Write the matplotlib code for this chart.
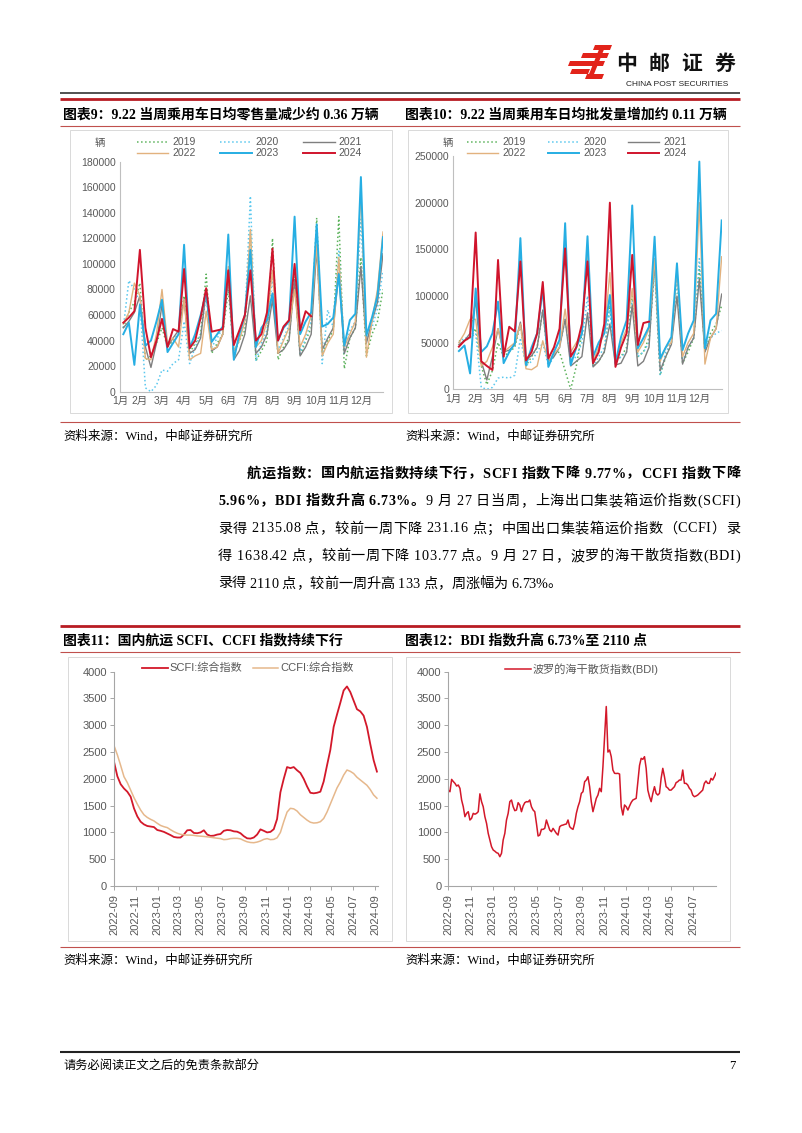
import matplotlib
matplotlib.use('Agg')
import matplotlib.pyplot as plt
import numpy as np
import pandas as pd
from matplotlib.patches import Polygon, Rectangle
from matplotlib.lines import Line2D
import matplotlib.dates as mdates

# ---------------- data ----------------
months = ['1月', '2月', '3月', '4月', '5月', '6月', '7月', '8月', '9月', '10月', '11月', '12月']
years = ['2019', '2020', '2021', '2022', '2023', '2024']

# chart 9: weekly retail daily average (4 points per month)
retail_2019 = [50000,62000,70000,85000, 25000,28000,38000,50000, 35000,40000,45000,75000, 30000,38000,45000,92000,
               30000,38000,45000,80000, 30000,40000,48000,125000, 24000,32000,40000,120000, 25000,35000,42000,90000,
               28000,40000,50000,136000, 30000,40000,48000,137000, 18000,42000,50000,105000, 28000,45000,55000,80000]
retail_2020 = [50000,87000,80000,70000, 3000,0,5000,17000, 16000,22000,25000,55000, 22000,35000,45000,75000,
               35000,42000,50000,90000, 30000,42000,55000,153000, 24000,38000,48000,90000, 32000,42000,52000,95000,
               30000,42000,55000,120000, 22000,64000,50000,110000, 30000,48000,55000,135000, 40000,50000,65000,95000]
retail_2021 = [50000,55000,62000,75000, 35000,19000,38000,68000, 35000,42000,48000,72000, 30000,33000,42000,80000,
               32000,35000,45000,90000, 25000,32000,45000,75000, 30000,35000,45000,72000, 30000,33000,40000,88000,
               28000,35000,45000,112000, 33000,42000,50000,93000, 30000,42000,50000,98000, 38000,55000,70000,108000]
retail_2022 = [53000,62000,85000,75000, 26000,25000,45000,80000, 38000,42000,35000,72000, 25000,28000,30000,63000,
               33000,35000,45000,98000, 32000,40000,55000,127000, 35000,40000,55000,95000, 30000,40000,50000,80000,
               35000,45000,60000,115000, 28000,38000,45000,105000, 35000,45000,55000,158000, 27000,55000,80000,125000]
retail_2023 = [45000,54000,21000,68000, 36000,40000,55000,72000, 31000,38000,45000,115000, 34000,45000,60000,78000,
               39000,45000,51000,123000, 25000,45000,60000,111000, 35000,50000,56000,77000, 40000,50000,55000,137000,
               45000,55000,62000,131000, 51000,53000,58000,92000, 36000,56000,61000,168000, 44000,58000,75000,121000]
retail_2024 = [54000,58000,63000,111000, 50000,27000,40000,57000, 35000,49000,47000,96000, 34000,40000,58000,81000,
               47000,48000,49000,95000, 36500,48000,60000,95000, 40000,45000,62000,112000, 40000,51000,56000,100000,
               48000,63000,59000]

# chart 10: weekly wholesale daily average
whole_2019 = [52000,52000,55000,65000, 25000,5000,20000,50000, 35000,40000,45000,70000, 25000,35000,45000,85000,
              30000,38000,40000,20000, 0,25000,60000,150000, 25000,30000,40000,90000, 30000,35000,45000,100000,
              35000,40000,55000,130000, 15000,35000,50000,120000, 28000,40000,55000,130000, 40000,60000,70000,90000]
whole_2020 = [50000,55000,55000,60000, 2000,0,2000,12000, 13000,12000,15000,55000, 25000,30000,40000,50000,
              25000,35000,45000,75000, 30000,35000,50000,100000, 25000,35000,45000,85000, 30000,35000,40000,95000,
              35000,40000,50000,130000, 15000,40000,50000,120000, 30000,45000,55000,140000, 45000,55000,60000,63000]
whole_2021 = [48000,52000,60000,95000, 30000,10000,35000,65000, 40000,42000,48000,72000, 32000,36000,45000,85000,
              30000,35000,45000,75000, 25000,30000,35000,82000, 24000,30000,40000,70000, 26000,28000,40000,90000,
              25000,30000,45000,140000, 20000,35000,48000,100000, 27000,45000,55000,118000, 40000,55000,65000,102000]
whole_2022 = [50000,60000,75000,75000, 25000,30000,45000,65000, 40000,45000,50000,70000, 22000,21000,25000,52000,
              30000,38000,45000,86000, 40000,50000,60000,152000, 30000,45000,60000,125000, 30000,50000,65000,108000,
              40000,50000,65000,140000, 30000,45000,50000,128000, 35000,50000,60000,200000, 27000,55000,65000,142000]
whole_2023 = [41000,47000,17000,108000, 40000,46000,60000,94000, 28000,40000,49000,162000, 26000,45000,60000,108000,
              24000,40000,53000,178000, 26000,45000,60000,164000, 35000,50000,60000,101000, 28000,56000,74000,197000,
              44000,55000,67000,163500, 33000,45000,56000,135000, 42000,60000,74000,244000, 44000,74000,81000,181000]
whole_2024 = [45700,52000,56000,168000, 30000,25000,20700,138600, 35000,67000,62000,137000, 31000,40000,60000,115000,
              33000,45000,65000,151000, 35000,45000,70000,137000, 28000,40000,70000,200000, 24000,45000,60000,144000,
              47500,71000,72500]

# chart 11: SCFI / CCFI composite (2022-09-23 .. 2024-09-27)
scfi = [2320,2050,1900,1820,1760,1667,1450,1300,1200,1150,1120,1110,1100,1045,1030,1010,980,950,915,905,
        905,960,1040,1045,990,985,1000,1040,960,935,940,960,970,1030,1045,1040,1020,1014,985,930,
        890,885,905,960,1057,1030,1000,1010,1060,1250,1750,2000,2220,2200,2220,2160,2110,2000,1860,1740,
        1730,1740,1760,1950,2250,2540,2970,3200,3420,3650,3725,3620,3460,3300,3260,3180,2970,2650,2350,2135.08]
ccfi = [2620,2450,2250,2040,1930,1790,1650,1530,1418,1330,1280,1244,1215,1170,1130,1107,1090,1050,1014,985,
        965,955,950,950,945,935,930,925,918,910,900,892,885,865,870,885,890,890,880,850,
        825,812,808,820,840,870,885,865,870,900,1000,1200,1380,1450,1440,1400,1330,1280,1230,1190,
        1175,1180,1200,1260,1380,1530,1680,1830,1940,2070,2165,2140,2100,2030,1980,1930,1880,1800,1700,1638.42]

# chart 12: BDI (2022-09-26 .. 2024-09-27)
bdi = [1790,1760,1990,1950,1916,1866,1885,1823,1605,1480,1294,1356,1387,1232,1263,1356,1340,1356,1387,1720,
       1574,1480,1294,1170,983,858,734,672,650,622,610,547,610,858,983,1232,1356,1574,1605,1480,
       1406,1418,1555,1512,1387,1493,1555,1574,1570,1605,1480,1418,1387,1170,933,951,1057,1057,1076,1232,
       1138,1045,1014,1076,1030,983,951,1107,1130,1138,1150,1157,1232,1107,1076,1057,1170,1356,1480,1574,
       1729,1760,1947,1978,2040,1854,1574,1387,1512,1636,1698,1823,1760,2227,2787,3350,2500,2538,2414,2165,
       2103,2100,2103,2090,1480,1325,1512,1480,1418,1493,1560,1605,1620,1636,1950,2250,2383,2364,2414,2196,
       1790,1667,1574,1729,1854,1729,1698,1729,2009,2196,2040,1854,1830,1790,1790,1823,1854,1929,1947,1978,
       1978,2165,1916,1916,1885,1823,1790,1698,1667,1680,1698,1729,1760,1790,1916,1960,1916,1916,2009,1978,
       2040,2110]

# ---------------- figure ----------------
W, H = 802, 1133
fig = plt.figure(figsize=(W / 100, H / 100), dpi=100)
fig.patch.set_facecolor('white')
SANS = ['Liberation Sans', 'Noto Sans CJK SC']
SERIF = ['Liberation Serif', 'Noto Sans CJK SC']
plt.rcParams['font.family'] = SANS

RED = '#D3182A'
DARKRED = '#B81C22'
GRAYTXT = '#595959'
AXCOL = '#BFBFBF'


def fx(x):
    return x / W


def fy(y):
    return 1 - y / H


def hline(x0, x1, y, color, lw):
    fig.add_artist(Line2D([fx(x0), fx(x1)], [fy(y), fy(y)], color=color, lw=lw,
                          transform=fig.transFigure, solid_capstyle='butt'))


def frame(x0, y0, x1, y1, color='#D9D9D9'):
    fig.add_artist(Rectangle((fx(x0), fy(y1)), (x1 - x0) / W, (y1 - y0) / H, fill=False,
                             ec=color, lw=0.7, transform=fig.transFigure))


def px_axes(x0, y0, x1, y1):
    return fig.add_axes([fx(x0), fy(y1), (x1 - x0) / W, (y1 - y0) / H])


def ftext(x, y, s, **kw):
    return fig.text(fx(x), fy(y), s, **kw)


# ---------------- header ----------------
logo_polys = [
    [(595, 45), (612, 45), (610, 50), (593, 50)],
    [(583, 53), (609, 53), (607, 58), (581, 58)],
    [(570, 61), (605, 61), (603, 66), (568, 66)],
    [(572, 69), (590, 69), (588, 74), (570, 74)],
    [(600, 47), (605, 47), (592, 79), (587, 79)],
    [(587, 74), (604, 74), (602, 79), (585, 79)],
]
for poly in logo_polys:
    fig.add_artist(Polygon([(fx(a), fy(b)) for a, b in poly], closed=True, fc='#E2231A', ec='none',
                           transform=fig.transFigure))
for ch, cx in zip('中邮证券', [627, 659, 692, 725]):
    ftext(cx, 63, ch, fontsize=15, fontweight='bold', family=['Noto Sans CJK SC'], ha='center', va='center',
          color='#111111')
ftext(677.5, 85, 'CHINA POST SECURITIES', fontsize=6, family=['Liberation Sans'], ha='center', va='center',
      color='#222222')
hline(60, 740, 92.5, '#333333', 1.2)

# ---------------- section frames ----------------
for ytop in (98.5, 626):
    hline(60, 740, ytop, DARKRED, 2.0)
hline(60, 740, 125.5, '#C0504D', 0.8)
hline(60, 740, 652, '#C0504D', 0.8)
hline(60, 740, 421.5, '#C0504D', 0.8)
hline(60, 740, 946.5, '#C0504D', 0.8)

frame(70, 130, 392, 413)
frame(408, 130, 728, 413)
frame(68, 657, 392, 941)
frame(406, 657, 730, 941)

title_kw = dict(fontsize=10, fontweight='bold', family=SERIF, va='center', ha='left', color='#000000')
ftext(63, 114.5, '图表9：9.22 当周乘用车日均零售量减少约 0.36 万辆', **title_kw)
ftext(405, 114.5, '图表10：9.22 当周乘用车日均批发量增加约 0.11 万辆', **title_kw)
ftext(63, 640.5, '图表11：国内航运 SCFI、CCFI 指数持续下行', **title_kw)
ftext(405, 640.5, '图表12：BDI 指数升高 6.73%至 2110 点', **title_kw)

src_kw = dict(fontsize=9, family=SERIF, va='center', ha='left', color='#000000')
for (x, y) in [(63, 436), (405, 436), (63, 960), (405, 960)]:
    ftext(x, y, '资料来源：Wind，中邮证券研究所', **src_kw)

# ---------------- car charts ----------------
styles = {
    '2019': dict(color='#5DB35D', lw=1.1, ls=':'),
    '2020': dict(color='#5BC8EE', lw=1.1, ls=':'),
    '2021': dict(color='#7F7F7F', lw=1.0, ls='-'),
    '2022': dict(color='#E2B27E', lw=1.0, ls='-'),
    '2023': dict(color='#26AEE3', lw=1.4, ls='-'),
    '2024': dict(color='#D0142C', lw=1.4, ls='-'),
}


def car_chart(ax, series, ylim, ystep, xlim, ticks, unit_xy, leg_xy, colsp):
    handles = {}
    for yr, vals in zip(years, series):
        ln, = ax.plot(np.arange(len(vals)), vals, label=yr, **styles[yr])
        handles[yr] = ln
    ax.set_xlim(*xlim)
    ax.set_ylim(*ylim)
    ax.set_yticks(np.arange(0, ylim[1] + 1, ystep))
    ax.set_yticklabels([f'{int(v)}' for v in np.arange(0, ylim[1] + 1, ystep)])
    ax.set_xticks(ticks)
    ax.set_xticklabels(months)
    for s in ('top', 'right'):
        ax.spines[s].set_visible(False)
    for s in ('left', 'bottom'):
        ax.spines[s].set_color(AXCOL)
        ax.spines[s].set_linewidth(0.8)
    ax.tick_params(length=0, labelsize=7.5, labelcolor=GRAYTXT, pad=3)
    ax.patch.set_alpha(0)
    ftext(unit_xy[0], unit_xy[1], '辆', fontsize=7.5, color=GRAYTXT, ha='center', va='center',
          family=['Noto Sans CJK SC'])
    order = ['2019', '2022', '2020', '2023', '2021', '2024']
    fig.legend([handles[k] for k in order], order, ncol=3, loc='upper left',
               bbox_to_anchor=(fx(leg_xy[0]), fy(leg_xy[1])), bbox_transform=fig.transFigure,
               frameon=False, fontsize=7.5, handlelength=3.0, handletextpad=0.4,
               columnspacing=colsp, labelspacing=0.08, borderpad=0, borderaxespad=0,
               labelcolor=GRAYTXT)


ax9 = px_axes(120, 161.7, 383, 391.7)
car_chart(ax9, [retail_2019, retail_2020, retail_2021, retail_2022, retail_2023, retail_2024],
          (0, 180000), 20000, (-0.6, 47), [-0.6] + [4 * k - 1 for k in range(1, 12)],
          (100, 143), (137, 137.5), 2.35)

ax10 = px_axes(453.3, 156, 721.7, 389.3)
car_chart(ax10, [whole_2019, whole_2020, whole_2021, whole_2022, whole_2023, whole_2024],
          (0, 250000), 50000, (-1, 47), [4 * k - 1 for k in range(12)],
          (448, 143), (467, 137.5), 2.1)

# ---------------- shipping charts ----------------
def ship_axes(ax, start, end, nticks):
    ax.set_ylim(0, 4000)
    ax.set_yticks(np.arange(0, 4001, 500))
    ticks = [start + pd.DateOffset(months=2 * k) for k in range(nticks)]
    ax.set_xticks(ticks)
    ax.set_xticklabels([t.strftime('%Y-%m') for t in ticks], rotation=90)
    for s in ('top', 'right'):
        ax.spines[s].set_visible(False)
    for s in ('left', 'bottom'):
        ax.spines[s].set_color('#A6A6A6')
        ax.spines[s].set_linewidth(0.8)
    ax.tick_params(length=3, width=0.7, color='#A6A6A6', labelsize=8, labelcolor=GRAYTXT, pad=2)
    ax.tick_params(axis='x', pad=3)
    ax.patch.set_alpha(0)


s11 = pd.Timestamp('2022-09-23')
e11 = pd.Timestamp('2024-09-27')
d11 = pd.date_range(s11, e11, periods=len(scfi))
ax11 = px_axes(114, 671.7, 378, 886)
l1, = ax11.plot(d11, scfi, color=RED, lw=1.3, label='SCFI:综合指数')
l2, = ax11.plot(d11, ccfi, color='#E6B88C', lw=1.1, label='CCFI:综合指数')
ax11.set_xlim(s11, e11 + pd.Timedelta(days=3))
ship_axes(ax11, s11, e11, 13)
fig.legend([l1, l2], ['SCFI:综合指数', 'CCFI:综合指数'], ncol=2, loc='upper left',
           bbox_to_anchor=(fx(142), fy(663)), bbox_transform=fig.transFigure, frameon=False,
           fontsize=8, handlelength=2.3, handletextpad=0.2, columnspacing=0.9, borderpad=0,
           borderaxespad=0, labelcolor=GRAYTXT)

s12 = pd.Timestamp('2022-09-26')
e12 = pd.Timestamp('2024-09-27')
d12 = pd.date_range(s12, e12, periods=len(bdi))
ax12 = px_axes(448.3, 671.7, 716, 886)
l3, = ax12.plot(d12, bdi, color=RED, lw=1.1, label='波罗的海干散货指数(BDI)')
ax12.set_xlim(s12, e12)
ship_axes(ax12, s12, e12, 12)
fig.legend([l3], ['波罗的海干散货指数(BDI)'], loc='upper left',
           bbox_to_anchor=(fx(505), fy(663)), bbox_transform=fig.transFigure, frameon=False,
           fontsize=8, handlelength=2.3, handletextpad=0.2, borderpad=0, borderaxespad=0,
           labelcolor=GRAYTXT)

# ---------------- paragraph ----------------
renderer = fig.canvas.get_renderer()


def text_line(runs, x0, x1, y, size, justify=True):
    chars = []
    for txt, bold in runs:
        for ch in txt:
            chars.append((ch, bold))
    arts, widths = [], []
    for ch, bold in chars:
        t = fig.text(0, 0, ch if ch != ' ' else '\u00a0', fontsize=size, family=SERIF,
                     fontweight='bold' if bold else 'normal', ha='left', va='center', color='#000000')
        w = t.get_window_extent(renderer).width
        if ch == ' ':
            w = 0.25 * size * 100 / 72
        arts.append(t)
        widths.append(w)
    gap = (x1 - x0 - sum(widths)) / (len(chars) - 1) if justify else 0
    x = x0
    for t, w in zip(arts, widths):
        t.set_position((fx(x), fy(y)))
        x += w + gap


PX0, PX1 = 218, 740
text_line([('航运指数：国内航运指数持续下行，SCFI 指数下降 9.77%，CCFI 指数下降', True)], 247, PX1, 474, 10.2)
text_line([('5.96%，BDI 指数升高 6.73%。', True), ('9 月 27 日当周，上海出口集装箱运价指数(SCFI)', False)],
          PX0, PX1, 501.5, 10.2)
text_line([('录得 2135.08 点，较前一周下降 231.16 点；中国出口集装箱运价指数（CCFI）录', False)], PX0, PX1, 529, 10.2)
text_line([('得 1638.42 点，较前一周下降 103.77 点。9 月 27 日，波罗的海干散货指数(BDI)', False)], PX0, PX1, 556.5, 10.2)
text_line([('录得 2110 点，较前一周升高 133 点，周涨幅为 6.73%。', False)], PX0, PX1, 584, 10.2, justify=False)

# ---------------- footer ----------------
hline(60, 740, 1052, '#222222', 1.5)
ftext(63, 1066, '请务必阅读正文之后的免责条款部分', fontsize=8.8, family=SERIF, ha='left', va='center')
ftext(736, 1066, '7', fontsize=9, family=SERIF, ha='right', va='center')

fig.savefig('out.png', dpi=100, facecolor='white')
